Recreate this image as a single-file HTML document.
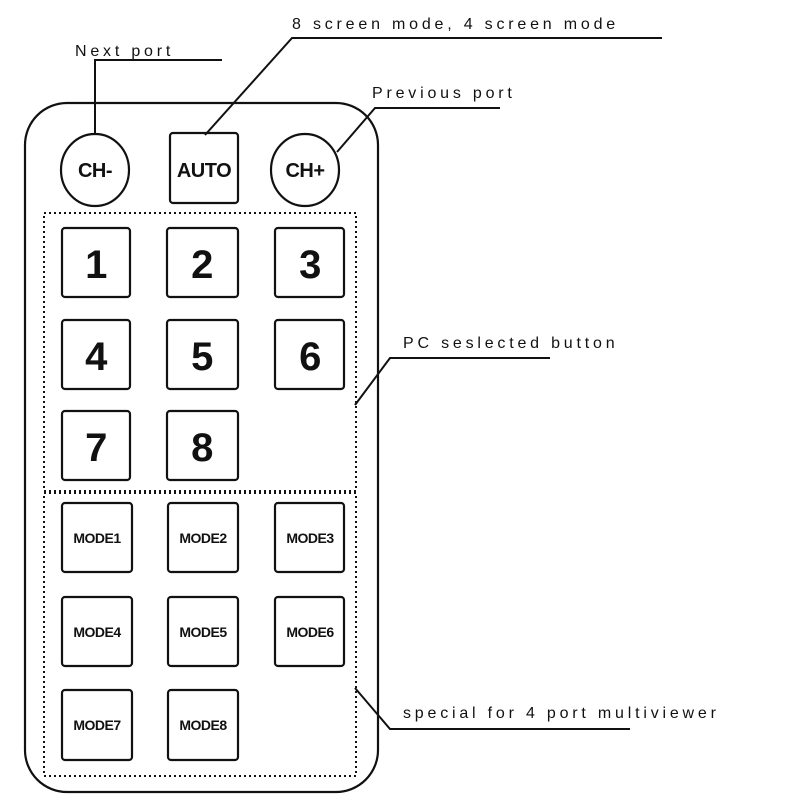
<!DOCTYPE html>
<html><head><meta charset="utf-8"><style>
html,body{margin:0;padding:0;background:#fff}
svg{display:block}
.l{font-family:"Liberation Sans",sans-serif;font-size:16px;letter-spacing:3.8px;fill:#111}
.b{font-family:"Liberation Sans",sans-serif;font-weight:bold;fill:#111;text-anchor:middle;letter-spacing:-0.5px}
</style></head><body>
<svg width="800" height="800" viewBox="0 0 800 800" xmlns="http://www.w3.org/2000/svg">
<g fill="none" stroke="#111" stroke-width="2.2">
<rect x="25" y="103" width="353" height="689" rx="42"/>
<ellipse cx="95" cy="170" rx="34" ry="36"/>
<ellipse cx="305" cy="170" rx="34" ry="36"/>
<rect x="170" y="133" width="68" height="70" rx="3"/>
<g stroke-dasharray="2 3" stroke-width="2">
<rect x="44" y="213" width="312" height="278"/>
<rect x="44" y="493" width="312" height="283"/>
</g>
<g>
<rect x="62" y="228" width="68" height="69" rx="3"/><rect x="167" y="228" width="71" height="69" rx="3"/><rect x="275" y="228" width="69" height="69" rx="3"/>
<rect x="62" y="320" width="68" height="69" rx="3"/><rect x="167" y="320" width="71" height="69" rx="3"/><rect x="275" y="320" width="69" height="69" rx="3"/>
<rect x="62" y="411" width="68" height="69" rx="3"/><rect x="167" y="411" width="71" height="69" rx="3"/>
<rect x="62" y="503" width="70" height="69" rx="3"/><rect x="168" y="503" width="70" height="69" rx="3"/><rect x="275" y="503" width="69" height="69" rx="3"/>
<rect x="62" y="597" width="70" height="69" rx="3"/><rect x="168" y="597" width="70" height="69" rx="3"/><rect x="275" y="597" width="69" height="69" rx="3"/>
<rect x="62" y="690" width="70" height="70" rx="3"/><rect x="168" y="690" width="70" height="70" rx="3"/>
</g>
<g stroke-width="2">
<polyline points="95,134 95,60 222,60"/>
<polyline points="205,135 292,38 662,38"/>
<polyline points="337,152 375,108 500,108"/>
<polyline points="355,405 390,358 550,358"/>
<polyline points="355,688 390,729 630,729"/>
</g>
</g>
<text class="l" x="75" y="56">Next port</text>
<text class="l" x="292" y="29">8 screen mode, 4 screen mode</text>
<text class="l" x="372" y="98">Previous port</text>
<text class="l" x="403" y="348">PC seslected button</text>
<text class="l" x="403" y="718">special for 4 port multiviewer</text>
<g class="b" font-size="20">
<text x="95" y="177">CH-</text><text x="305" y="177">CH+</text><text x="204" y="177">AUTO</text>
</g>
<g class="b" font-size="40">
<text x="96" y="278">1</text><text x="202" y="278">2</text><text x="310" y="278">3</text>
<text x="96" y="370">4</text><text x="202" y="370">5</text><text x="310" y="370">6</text>
<text x="96" y="461">7</text><text x="202" y="461">8</text>
</g>
<g class="b" font-size="14">
<text x="97" y="543">MODE1</text><text x="203" y="543">MODE2</text><text x="310" y="543">MODE3</text>
<text x="97" y="637">MODE4</text><text x="203" y="637">MODE5</text><text x="310" y="637">MODE6</text>
<text x="97" y="730">MODE7</text><text x="203" y="730">MODE8</text>
</g>
</svg>
</body></html>
